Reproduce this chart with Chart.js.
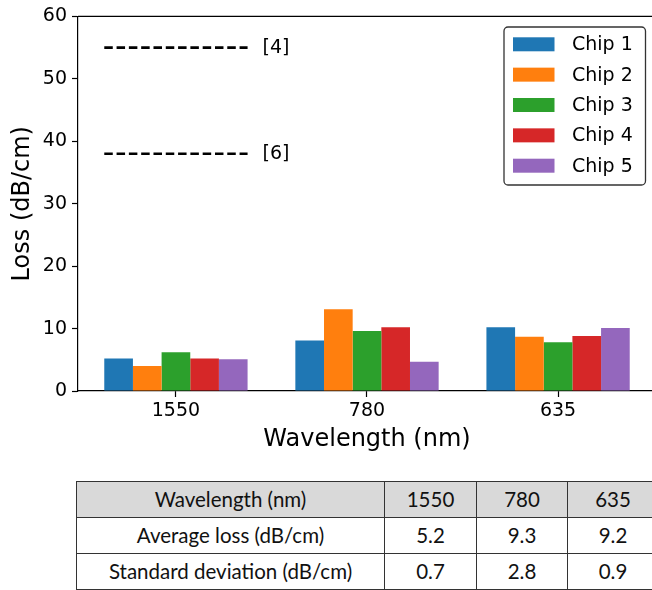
<!DOCTYPE html>
<html>
<head>
<meta charset="utf-8">
<script src="https://cdn.jsdelivr.net/npm/chart.js@4/dist/chart.umd.min.js"></script>
<style>
  html, body { margin: 0; padding: 0; overflow: hidden; background: #fff; width: 652px; height: 590px; }
  #plot { position: absolute; left: 0; top: 0; }
  table.summary {
    position: absolute; left: 76px; top: 481px; width: 582px;
    border-collapse: collapse; table-layout: fixed;
    font-family: Lato, "Open Sans", sans-serif; font-size: 20.5px; color: #111;
  }
  table.summary td { border: 1.5px solid #333; text-align: center; padding: 0; height: 35px; line-height: 1; }
  table.summary tr.head td { background: #d9d9d9; }
</style>
</head>
<body>
<canvas id="plot" width="660" height="460"></canvas>
<table class="summary" id="summary">
  <colgroup><col style="width:308px"><col style="width:92px"><col style="width:91px"><col style="width:91px"></colgroup>
</table>
<script>
// Measured propagation loss per chip at each wavelength (dB/cm)
const categories = ['1550', '780', '635'];
const chipNames = ['Chip 1', 'Chip 2', 'Chip 3', 'Chip 4', 'Chip 5'];
const chip1 = [5.2, 8.1, 10.2];
const chip2 = [4.0, 13.1, 8.7];
const chip3 = [6.2, 9.6, 7.8];
const chip4 = [5.2, 10.2, 8.8];
const chip5 = [5.1, 4.7, 10.1];
const chipColors = ['#1f77b4', '#ff7f0e', '#2ca02c', '#d62728', '#9467bd'];

// Loss values reported in references, drawn across the 1550 nm group
const refLabels = ['[4]', '[6]'];
const refValues = [55, 38];
const refSpan = [-0.375, 0.375];

const yTicks = [0, 10, 20, 30, 40, 50, 60];

// Summary table
const tableHeader = 'Wavelength (nm)';
const rowNames = ['Average loss (dB/cm)', 'Standard deviation (dB/cm)'];
const avgLoss = ['5.2', '9.3', '9.2'];
const stdDev = ['0.7', '2.8', '0.9'];

const FONT = "'DejaVu Sans', sans-serif";

const chipSeries = [chip1, chip2, chip3, chip4, chip5];
const barSets = chipSeries.map((vals, k) => ({
  type: 'bar',
  label: chipNames[k],
  data: vals.map((v, i) => ({ x: i, y: v })),
  backgroundColor: chipColors[k],
  borderWidth: 0,
  categoryPercentage: 0.75,
  barPercentage: 1.0,
  order: 2
}));
const refSets = refValues.map((v, k) => ({
  type: 'line',
  label: refLabels[k],
  data: refSpan.map(x => ({ x: x, y: v })),
  borderColor: '#000',
  borderWidth: 2.6,
  borderDash: [8.5, 3.8],
  pointRadius: 0,
  fill: false,
  order: 1
}));

const framePlugin = {
  id: 'frame',
  afterDraw(chart) {
    const { ctx, chartArea: a } = chart;
    ctx.save();
    ctx.strokeStyle = '#000';
    ctx.lineWidth = 1.2;
    ctx.beginPath();
    ctx.moveTo(a.left, a.top);
    ctx.lineTo(a.right, a.top);
    ctx.lineTo(a.right, a.bottom);
    ctx.stroke();
    ctx.restore();
  }
};

const refTextPlugin = {
  id: 'refText',
  afterDatasetsDraw(chart) {
    const { ctx, scales } = chart;
    ctx.save();
    ctx.fillStyle = '#000';
    ctx.font = '19px ' + FONT;
    ctx.textAlign = 'left';
    ctx.textBaseline = 'middle';
    refValues.forEach((v, k) => {
      const x = scales.x.getPixelForValue(refSpan[1]) + 15;
      const y = scales.y.getPixelForValue(v);
      ctx.fillText(refLabels[k], x, y);
    });
    ctx.restore();
  }
};

const legendPlugin = {
  id: 'boxLegend',
  afterDraw(chart) {
    const { ctx } = chart;
    const bars = chart.data.datasets.filter(d => d.type === 'bar');
    const left = 504, top = 27, w = 141.5, h = 158, r = 4;
    ctx.save();
    ctx.fillStyle = 'rgba(255,255,255,0.85)';
    ctx.strokeStyle = '#333';
    ctx.lineWidth = 1.3;
    ctx.beginPath();
    ctx.roundRect(left, top, w, h, r);
    ctx.fill();
    ctx.stroke();
    ctx.font = '19px ' + FONT;
    ctx.textBaseline = 'middle';
    ctx.textAlign = 'left';
    bars.forEach((d, k) => {
      const cy = 44.3 + k * 30.35;
      ctx.fillStyle = d.backgroundColor;
      ctx.fillRect(513, cy - 7, 41.5, 14);
      ctx.fillStyle = '#000';
      ctx.fillText(d.label, 572, cy + 1);
    });
    ctx.restore();
  }
};

new Chart(document.getElementById('plot'), {
  data: { datasets: [...barSets, ...refSets] },
  options: {
    responsive: false,
    animation: false,
    devicePixelRatio: 1,
    layout: { padding: { left: 0, right: 4, top: 16, bottom: 0 } },
    plugins: { legend: { display: false }, tooltip: { enabled: false } },
    scales: {
      x: {
        type: 'linear',
        min: -0.5125,
        max: 2.5125,
        offset: false,
        afterBuildTicks: s => { s.ticks = categories.map((c, i) => ({ value: i })); },
        afterFit: s => { s.height = 69; },
        ticks: {
          callback: v => categories[v],
          font: { family: FONT, size: 19 },
          color: '#000',
          padding: 3,
          maxRotation: 0,
          autoSkip: false
        },
        grid: { offset: false, drawOnChartArea: false, drawTicks: true, tickLength: 6, color: '#000', tickWidth: 1.2 },
        border: { display: true, color: '#000', width: 1.2 },
        title: {
          display: true,
          text: 'Wavelength (nm)',
          font: { family: FONT, size: 24 },
          color: '#000',
          padding: { top: 0, bottom: 6 }
        }
      },
      y: {
        type: 'linear',
        min: 0,
        max: 60,
        afterBuildTicks: s => { s.ticks = yTicks.map(v => ({ value: v })); },
        afterFit: s => { s.width = 78; },
        ticks: {
          font: { family: FONT, size: 19 },
          color: '#000',
          padding: 5
        },
        grid: { drawOnChartArea: false, drawTicks: true, tickLength: 6, color: '#000', tickWidth: 1.2 },
        border: { display: true, color: '#000', width: 1.2 },
        title: {
          display: true,
          text: 'Loss (dB/cm)',
          font: { family: FONT, size: 24 },
          color: '#000',
          padding: { top: 8, bottom: 0 }
        }
      }
    }
  },
  plugins: [framePlugin, refTextPlugin, legendPlugin]
});

// Build the summary table from its arrays
const table = document.getElementById('summary');
function addRow(cells, cls) {
  const tr = document.createElement('tr');
  if (cls) tr.className = cls;
  cells.forEach(t => {
    const td = document.createElement('td');
    td.textContent = t;
    tr.appendChild(td);
  });
  table.appendChild(tr);
}
addRow([tableHeader, ...categories], 'head');
addRow([rowNames[0], ...avgLoss]);
addRow([rowNames[1], ...stdDev]);
</script>
</body>
</html>
